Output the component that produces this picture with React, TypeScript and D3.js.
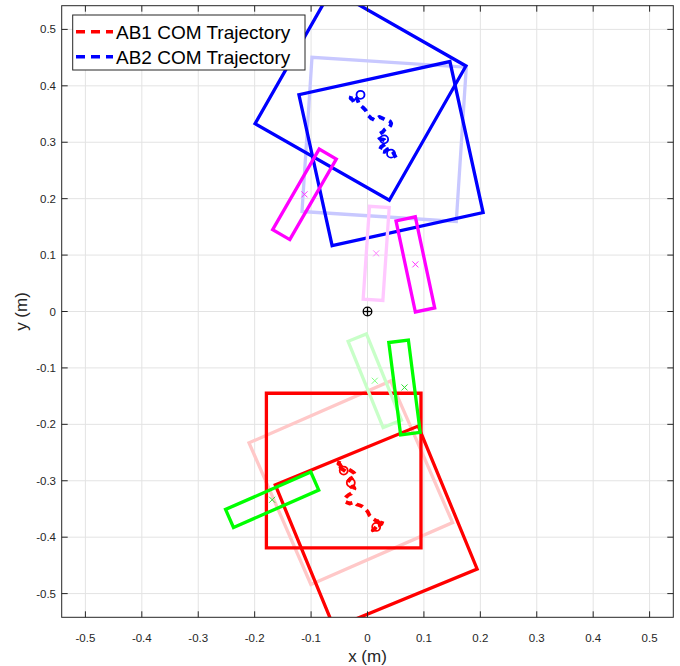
import React from 'react';
import * as d3 from 'd3';

// Figure geometry
const WIDTH = 680;
const HEIGHT = 666;
const PLOT = { left: 61.7, right: 673.3, top: 5.7, bottom: 617.3 };
const LIMIT = 0.542;

// Axis ticks
const tickValues = [-0.5, -0.4, -0.3, -0.2, -0.1, 0, 0.1, 0.2, 0.3, 0.4, 0.5];
const tickLabels = ['-0.5', '-0.4', '-0.3', '-0.2', '-0.1', '0', '0.1', '0.2', '0.3', '0.4', '0.5'];

// Legend entries
const legendLabels = ['AB1 COM Trajectory', 'AB2 COM Trajectory'];

// Body / limb dimensions (m)
const bodySide = 0.274;
const limbLength = 0.165;
const limbWidth = 0.035;

// AB1 snapshots: body centre and rotation (deg), limb centre and rotation
const ab1BodyX = [-0.0296, -0.0422, 0.0154];
const ab1BodyY = [-0.3035, -0.2819, -0.3819];
const ab1BodyAngle = [23.6, 0, 22.4];
const ab1LimbX = [0.0129, 0.0656, -0.169];
const ab1LimbY = [-0.1227, -0.1346, -0.3337];
const ab1LimbAngle = [112.1, 97.3, 23.7];

// AB2 snapshots
const ab2BodyX = [0.0295, -0.0124, 0.0417];
const ab2BodyY = [0.3051, 0.3841, 0.2798];
const ab2BodyAngle = [-3.7, 60.3, 12.4];
const ab2LimbX = [0.0154, -0.1117, 0.0848];
const ab2LimbY = [0.103, 0.2076, 0.0835];
const ab2LimbAngle = [86.1, 60.0, 102.0];

// COM trajectories (noisy measured paths)
const ab1TrajX = [-0.0496, -0.0515, -0.0470, -0.0438, -0.0480, -0.0466, -0.0420, -0.0378, -0.0330, -0.0289, -0.0250, -0.0230, -0.0215, -0.0261, -0.0300, -0.0349, -0.0330, -0.0289, -0.0250, -0.0230, -0.0262, -0.0289, -0.0335, -0.0378, -0.0408, -0.0385, -0.0319, -0.0270, -0.0230, -0.0190, -0.0142, -0.0100, -0.0053, -0.0020, 0.0005, 0.0035, 0.0060, 0.0094, 0.0140, 0.0183, 0.0240, 0.0271, 0.0250, 0.0213, 0.0160, 0.0124, 0.0094, 0.0130, 0.0170];
const ab1TrajY = [-0.2649, -0.2700, -0.2720, -0.2695, -0.2760, -0.2784, -0.2810, -0.2844, -0.2800, -0.2826, -0.2850, -0.2872, -0.2910, -0.2943, -0.2960, -0.3021, -0.3070, -0.3110, -0.3100, -0.3138, -0.3180, -0.3227, -0.3250, -0.3287, -0.3330, -0.3376, -0.3404, -0.3390, -0.3376, -0.3420, -0.3434, -0.3450, -0.3493, -0.3520, -0.3553, -0.3612, -0.3640, -0.3670, -0.3700, -0.3730, -0.3680, -0.3700, -0.3760, -0.3789, -0.3800, -0.3848, -0.3878, -0.3850, -0.3790];
const ab2TrajX = [-0.0289, -0.0300, -0.0261, -0.0230, -0.0210, -0.0190, -0.0165, -0.0142, -0.0110, -0.0083, -0.0035, -0.0010, 0.0005, 0.0040, 0.0066, 0.0095, 0.0124, 0.0170, 0.0213, 0.0271, 0.0310, 0.0360, 0.0400, 0.0420, 0.0410, 0.0390, 0.0332, 0.0300, 0.0271, 0.0220, 0.0183, 0.0213, 0.0260, 0.0301, 0.0332, 0.0290, 0.0243, 0.0213, 0.0250, 0.0301, 0.0345, 0.0390, 0.0420, 0.0449, 0.0480, 0.0509];
const ab2TrajY = [0.3817, 0.3780, 0.3747, 0.3688, 0.3740, 0.3777, 0.3720, 0.3658, 0.3640, 0.3617, 0.3569, 0.3520, 0.3480, 0.3450, 0.3422, 0.3410, 0.3392, 0.3420, 0.3450, 0.3422, 0.3400, 0.3392, 0.3370, 0.3333, 0.3300, 0.3273, 0.3245, 0.3220, 0.3184, 0.3150, 0.3126, 0.3067, 0.3050, 0.3037, 0.2979, 0.2950, 0.2918, 0.2860, 0.2840, 0.2830, 0.2870, 0.2890, 0.2860, 0.2830, 0.2770, 0.2713];

// Snapshot styles: first one faded, later ones solid
const ab1BodyColors = ['#ffc8c8', '#ff0000', '#ff0000'];
const ab1LimbColors = ['#c8ffc8', '#00ff00', '#00ff00'];
const ab1MarkColors = ['#80ff80', '#33dd33', '#33dd33'];
const ab2BodyColors = ['#c8c8ff', '#0000ff', '#0000ff'];
const ab2LimbColors = ['#ffc8ff', '#ff00ff', '#ff00ff'];
const ab2MarkColors = ['#ff80ff', '#ff33ff', '#ff33ff'];

const x = d3.scaleLinear().domain([-LIMIT, LIMIT]).range([PLOT.left, PLOT.right]);
const y = d3.scaleLinear().domain([-LIMIT, LIMIT]).range([PLOT.bottom, PLOT.top]);

function rectPath(cx: number, cy: number, angleDeg: number, len: number, wid: number): string {
  const t = (angleDeg * Math.PI) / 180;
  const c = Math.cos(t);
  const s = Math.sin(t);
  const local: [number, number][] = [
    [-len / 2, -wid / 2],
    [len / 2, -wid / 2],
    [len / 2, wid / 2],
    [-len / 2, wid / 2],
  ];
  const pts = local.map(([u, v]) => [x(cx + u * c - v * s), y(cy + u * s + v * c)] as [number, number]);
  return 'M' + pts.map((p) => p.join(',')).join('L') + 'Z';
}

const line = d3
  .line<[number, number]>()
  .x((d) => x(d[0]))
  .y((d) => y(d[1]));

const FONT = '"Liberation Sans", Arial, Helvetica, sans-serif';
const AXIS_COLOR = '#262626';

function Robot(props: {
  bodyX: number[]; bodyY: number[]; bodyAngle: number[];
  limbX: number[]; limbY: number[]; limbAngle: number[];
  bodyColors: string[]; limbColors: string[]; markColors: string[];
}) {
  const { bodyX, bodyY, bodyAngle, limbX, limbY, limbAngle, bodyColors, limbColors, markColors } = props;
  return (
    <g>
      {bodyX.map((_, i) => (
        <path key={'b' + i} d={rectPath(bodyX[i], bodyY[i], bodyAngle[i], bodySide, bodySide)}
          fill="none" stroke={bodyColors[i]} strokeWidth={3.3} strokeLinejoin="miter" />
      ))}
      {limbX.map((_, i) => (
        <path key={'l' + i} d={rectPath(limbX[i], limbY[i], limbAngle[i], limbLength, limbWidth)}
          fill="none" stroke={limbColors[i]} strokeWidth={3.3} strokeLinejoin="miter" />
      ))}
      {limbX.map((_, i) => {
        const px = x(limbX[i]);
        const py = y(limbY[i]);
        const r = 3;
        return (
          <path key={'m' + i} d={`M${px - r},${py - r}L${px + r},${py + r}M${px - r},${py + r}L${px + r},${py - r}`}
            stroke={markColors[i]} strokeWidth={1} fill="none" />
        );
      })}
    </g>
  );
}

function Trajectory(props: { xs: number[]; ys: number[]; cxs: number[]; cys: number[]; color: string }) {
  const pts = props.xs.map((v, i) => [v, props.ys[i]] as [number, number]);
  return (
    <g>
      <path d={line(pts) || ''} fill="none" stroke={props.color} strokeWidth={3.8}
        strokeDasharray="7,5" strokeLinejoin="round" />
      {props.cxs.map((v, i) => (
        <circle key={i} cx={x(v)} cy={y(props.cys[i])} r={4} fill="none" stroke={props.color} strokeWidth={1.8} />
      ))}
    </g>
  );
}

export default function App() {
  const tickLen = 6;
  return (
    <svg width={WIDTH} height={HEIGHT} style={{ position: 'absolute', left: 0, top: 0, background: '#fff' }}
      fontFamily={FONT}>
      <defs>
        <clipPath id="plot-area">
          <rect x={PLOT.left} y={PLOT.top} width={PLOT.right - PLOT.left} height={PLOT.bottom - PLOT.top} />
        </clipPath>
      </defs>
      <rect x={PLOT.left} y={PLOT.top} width={PLOT.right - PLOT.left} height={PLOT.bottom - PLOT.top} fill="#fff" />

      {/* grid */}
      <g stroke="#e3e3e3" strokeWidth={1}>
        {tickValues.map((v) => (
          <line key={'gx' + v} x1={x(v)} x2={x(v)} y1={PLOT.top} y2={PLOT.bottom} />
        ))}
        {tickValues.map((v) => (
          <line key={'gy' + v} x1={PLOT.left} x2={PLOT.right} y1={y(v)} y2={y(v)} />
        ))}
      </g>

      <g clipPath="url(#plot-area)">
        <Robot bodyX={ab1BodyX} bodyY={ab1BodyY} bodyAngle={ab1BodyAngle}
          limbX={ab1LimbX} limbY={ab1LimbY} limbAngle={ab1LimbAngle}
          bodyColors={ab1BodyColors} limbColors={ab1LimbColors} markColors={ab1MarkColors} />
        <Robot bodyX={ab2BodyX} bodyY={ab2BodyY} bodyAngle={ab2BodyAngle}
          limbX={ab2LimbX} limbY={ab2LimbY} limbAngle={ab2LimbAngle}
          bodyColors={ab2BodyColors} limbColors={ab2LimbColors} markColors={ab2MarkColors} />
        <Trajectory xs={ab1TrajX} ys={ab1TrajY} cxs={ab1BodyX} cys={ab1BodyY} color="#ff0000" />
        <Trajectory xs={ab2TrajX} ys={ab2TrajY} cxs={ab2BodyX} cys={ab2BodyY} color="#0000ff" />
        {/* origin marker */}
        <g stroke="#000" strokeWidth={1.3} fill="none">
          <circle cx={x(0)} cy={y(0)} r={4.3} />
          <line x1={x(0) - 4.3} x2={x(0) + 4.3} y1={y(0)} y2={y(0)} />
          <line x1={x(0)} x2={x(0)} y1={y(0) - 4.3} y2={y(0) + 4.3} />
        </g>
      </g>

      {/* axes box and ticks */}
      <g stroke={AXIS_COLOR} strokeWidth={1} fill="none">
        <rect x={PLOT.left} y={PLOT.top} width={PLOT.right - PLOT.left} height={PLOT.bottom - PLOT.top} />
        {tickValues.map((v) => (
          <g key={'t' + v}>
            <line x1={x(v)} x2={x(v)} y1={PLOT.bottom} y2={PLOT.bottom - tickLen} />
            <line x1={x(v)} x2={x(v)} y1={PLOT.top} y2={PLOT.top + tickLen} />
            <line x1={PLOT.left} x2={PLOT.left + tickLen} y1={y(v)} y2={y(v)} />
            <line x1={PLOT.right} x2={PLOT.right - tickLen} y1={y(v)} y2={y(v)} />
          </g>
        ))}
      </g>

      {/* tick labels */}
      <g fill={AXIS_COLOR} fontSize={11.5}>
        {tickValues.map((v, i) => (
          <text key={'xl' + v} x={x(v)} y={642} textAnchor="middle">{tickLabels[i]}</text>
        ))}
        {tickValues.map((v, i) => (
          <text key={'yl' + v} x={56} y={y(v)} dy="0.35em" textAnchor="end">{tickLabels[i]}</text>
        ))}
      </g>

      {/* axis labels */}
      <text x={x(0)} y={662} textAnchor="middle" fontSize={17} fill={AXIS_COLOR}>x (m)</text>
      <text transform={`translate(27,${y(0)}) rotate(-90)`} textAnchor="middle" fontSize={17} fill={AXIS_COLOR}>y (m)</text>

      {/* legend */}
      <g>
        <rect x={72.7} y={15} width={232.3} height={55} fill="#fff" stroke={AXIS_COLOR} strokeWidth={1} />
        {legendLabels.map((label, i) => {
          const cy = 31.7 + i * 25;
          const color = i === 0 ? '#ff0000' : '#0000ff';
          return (
            <g key={label}>
              <line x1={76} x2={113} y1={cy} y2={cy} stroke={color} strokeWidth={3.6} strokeDasharray="9,6" />
              <text x={116} y={cy} dy="0.36em" fontSize={19} fill="#000">{label}</text>
            </g>
          );
        })}
      </g>
    </svg>
  );
}
